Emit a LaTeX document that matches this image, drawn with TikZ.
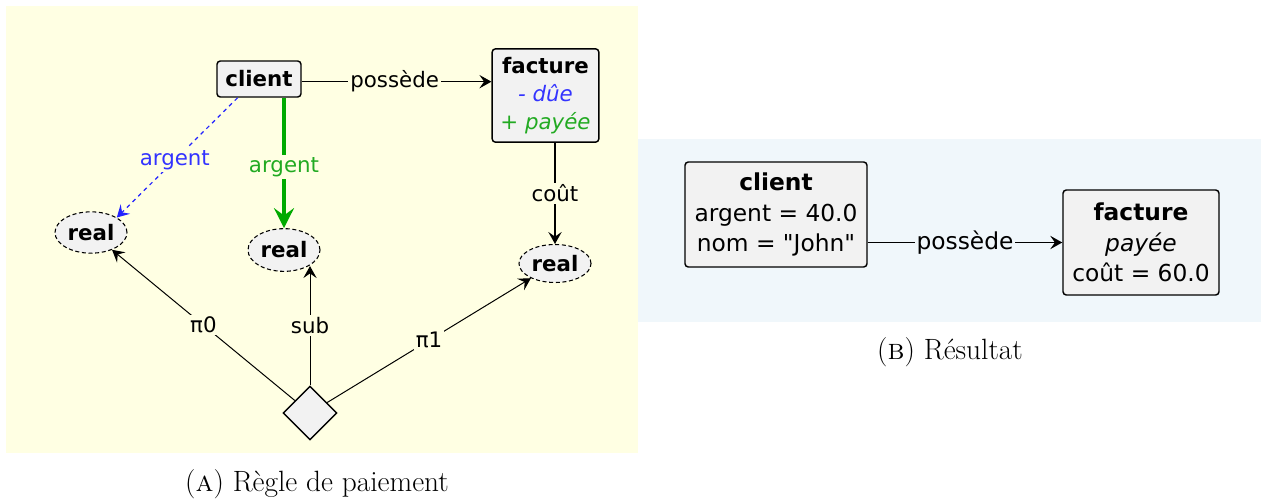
\documentclass[tikz,border=0pt]{standalone}
\usepackage{fontspec}
\newfontfamily\dv{DejaVu Sans}
\usetikzlibrary{shapes.geometric,arrows.meta,calc}
\definecolor{bgyellow}{HTML}{FFFFE3}
\definecolor{bgblue}{HTML}{F0F7FB}
\definecolor{nodefill}{HTML}{F2F2F2}
\definecolor{dashblue}{HTML}{2222FF}
\definecolor{thickgreen}{HTML}{00AA00}
\definecolor{labblue}{HTML}{3333FF}
\definecolor{labgreen}{HTML}{22AA22}
\begin{document}
\begin{tikzpicture}[x=0.75pt,y=-0.75pt,
  every node/.style={font=\dv\fontsize{16pt}{19pt}\selectfont, inner sep=0pt},
  classbox/.style={draw, rounded corners=2.5pt, fill=nodefill, line width=1.1pt, align=center},
  realnode/.style={ellipse, draw, densely dashed, fill=nodefill, line width=0.8pt, font=\dv\bfseries\fontsize{16pt}{19pt}\selectfont},
  dianode/.style={diamond, draw, fill=nodefill, line width=1.1pt, minimum width=40.5pt, minimum height=40.5pt},
  edge/.style={draw, line width=1pt, -{Stealth[length=9pt,width=10pt,inset=3.5pt]}},
  elabA/.style={fill=bgyellow, inner sep=1.5pt},
  elabB/.style={fill=bgblue, inner sep=1.5pt},
  capt/.style={font=\fontsize{22pt}{26pt}\selectfont}
]
\useasboundingbox (0,0) rectangle (1261,500);
% backgrounds
\fill[bgyellow] (6,6) rectangle (638,453);
\fill[bgblue] (638,139) rectangle (1261,322);

% ---- Panel A ----
\node[classbox, minimum width=63pt, minimum height=27pt, font=\dv\bfseries\fontsize{16pt}{19pt}\selectfont] (client) at (259,79) {client};
\node[classbox, minimum width=80pt, minimum height=70pt, font=\dv\fontsize{16pt}{21pt}\selectfont] (facture) at (545.5,95.5)
  {\textbf{facture}\\ \textcolor{labblue}{\itshape - dûe}\\ \textcolor{labgreen}{+ \itshape payée}};
\node[realnode, minimum width=54pt, minimum height=31pt] (real1) at (91,232.5) {real};
\node[realnode, minimum width=54pt, minimum height=32pt] (real2) at (284,250) {real};
\node[realnode, minimum width=54pt, minimum height=28.5pt] (real3) at (555,263.5) {real};
\node[dianode] (dia) at (310,413) {};

\draw[edge] ([yshift=-2pt]client.east) -- ([yshift=-2pt]client.east -| facture.west)
  node[elabA, pos=0.49] (lpos) {possède};
\draw[edge, dashblue, dashed, line width=0.9pt] ($(client.south west)!0.25!(client.south east)$) -- (real1.north east)
  node[elabA, pos=0.52, text=labblue] (larg1) {argent};
\draw[draw=thickgreen, line width=3pt, -{Stealth[length=15pt,width=15pt,inset=5.5pt]}] (real2.north |- client.south) -- (real2.north)
  node[elabA, pos=0.53, text=labgreen] (larg2) {argent};
\draw[edge] (facture.south -| real3.north) -- (real3.north)
  node[elabA, pos=0.5] (lcout) {coût};
\draw[edge, line width=0.75pt] (dia) -- (real1)
  node[elabA, pos=0.5] (lpi0) {π0};
\draw[edge, line width=0.75pt] (dia.north) -- (dia.north |- real2.-33)
  node[elabA, pos=0.5] (lsub) {sub};
\draw[edge, line width=0.75pt] (dia) -- (real3)
  node[elabA, pos=0.5] (lpi1) {π1};

\node[capt] (captA) at (317,484) {(\textsc{a}) Règle de paiement};

% ---- Panel B ----
\node[classbox, minimum width=136.5pt, minimum height=78.75pt, font=\dv\fontsize{17.5pt}{23pt}\selectfont] (client2) at (776,214.5)
  {\textbf{client}\\ argent = 40.0\\ nom = "John"};
\node[classbox, minimum width=117pt, minimum height=78.75pt, font=\dv\fontsize{17.5pt}{23pt}\selectfont] (facture2) at (1141,242.5)
  {\textbf{facture}\\ \textit{payée}\\ coût = 60.0};
\draw[edge] (client2.east |- facture2.west) -- (facture2.west)
  node[elabB, pos=0.5, font=\dv\fontsize{17.5pt}{19pt}\selectfont] (lpos2) {possède};

\node[capt] (captB) at (950,352) {(\textsc{b}) Résultat};
\end{tikzpicture}
\end{document}
